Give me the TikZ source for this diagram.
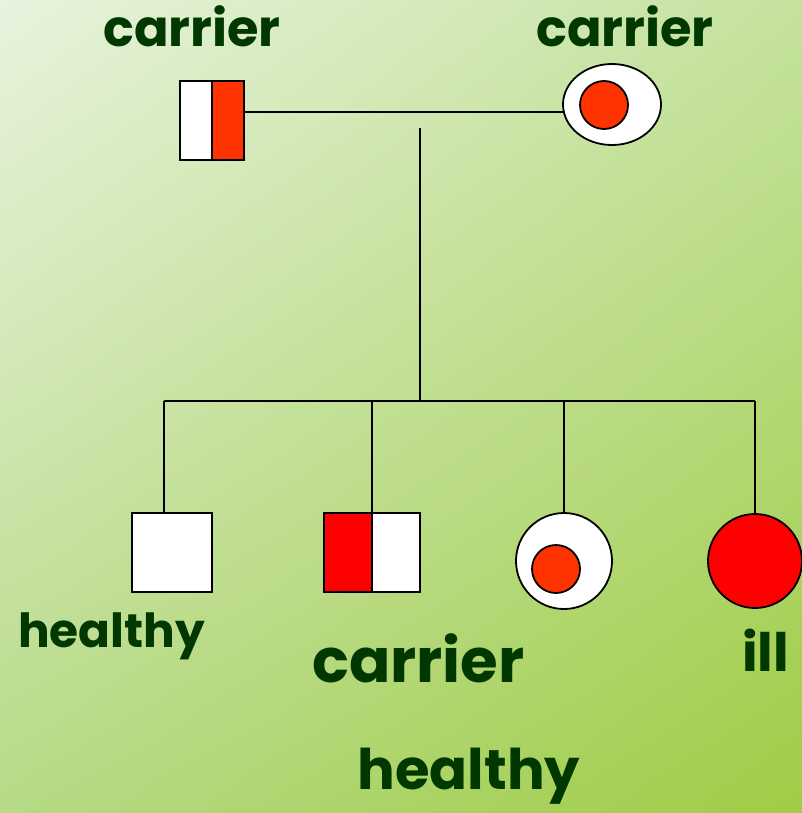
\documentclass[tikz,border=0pt]{standalone}
\usepackage{fontspec}
\setmainfont{Poppins}
\usetikzlibrary{shapes.geometric,backgrounds,shadings}
\definecolor{txtgreen}{RGB}{0,56,0}
\definecolor{carrred}{RGB}{255,51,0}
\definecolor{illred}{RGB}{255,0,0}
\definecolor{bgul}{RGB}{232,243,222}
\definecolor{bgur}{RGB}{196,226,158}
\definecolor{bgll}{RGB}{182,218,134}
\definecolor{bglr}{RGB}{160,204,69}
\pgfdeclarelayer{conn}
\pgfsetlayers{background,conn,main}
\tikzset{
  sym/.style={draw=black, line width=1.8pt, inner sep=0pt, outer sep=0pt},
  halfbox/.style={sym, rectangle, minimum height=79pt},
  circ/.style={sym, circle},
  link/.style={draw=black, line width=1.8pt},
  lbl/.style={text=txtgreen, anchor=base, inner sep=0pt, font=\bfseries\fontsize{#1}{#1}\selectfont},
}
\begin{document}
\begin{tikzpicture}[x=1pt,y=-1pt]
\useasboundingbox (0,0) rectangle (802,813);
\begin{pgfonlayer}{background}
\shade[upper left=bgul, upper right=bgur, lower left=bgll, lower right=bglr] (0,0) rectangle (802,813);
\end{pgfonlayer}
% parents
\node[halfbox, minimum width=32pt, fill=white] (fL) at (196,120.5) {};
\node[halfbox, minimum width=32pt, fill=carrred] (fR) at (228,120.5) {};
\node[sym, ellipse, minimum width=98pt, minimum height=81pt, fill=white] (m) at (612,104.5) {};
\node[circ, minimum size=48pt, fill=carrred] (mi) at (604,105) {};
% children
\node[halfbox, minimum width=80pt, fill=white] (c1) at (172,552.5) {};
\node[halfbox, minimum width=48pt, fill=illred] (c2L) at (348,552.5) {};
\node[halfbox, minimum width=48pt, fill=white] (c2R) at (396,552.5) {};
\node[circ, minimum size=96pt, fill=white] (c3) at (564,561) {};
\node[circ, minimum size=48pt, fill=carrred] (c3i) at (556,569) {};
\node[circ, minimum size=94pt, fill=illred] (c4) at (755,561) {};
% connector points
\coordinate (ml) at (244,112);
\coordinate (top) at (420,128);
\coordinate (sib) at (420,401);
\coordinate (d1) at ([xshift=-8pt]c1.north);
\begin{pgfonlayer}{conn}
\draw[link] (ml) -- (ml -| m.west);
\draw[link] (top) -- (sib);
\draw[link] (d1 |- sib) -- (c4.north |- sib);
\draw[link] (d1 |- sib) -- (d1);
\draw[link] (c2L.north east |- sib) -- (c2L.north east);
\draw[link] (c3.north |- sib) -- (c3.north);
\draw[link] (c4.north |- sib) -- (c4.north);
\end{pgfonlayer}
% labels
\node[lbl=51] (t1) at (192,47) {carrier};
\node[lbl=51] (t2) at (625,47) {carrier};
\node[lbl=47] (t3) at (111.5,647) {healthy};
\node[lbl=61] (t4) at (418.5,682) {carrier};
\node[lbl=53] (t5) at (765.5,671) {ill};
\node[lbl=56] (t6) at (469,789) {healthy};
\end{tikzpicture}
\end{document}
